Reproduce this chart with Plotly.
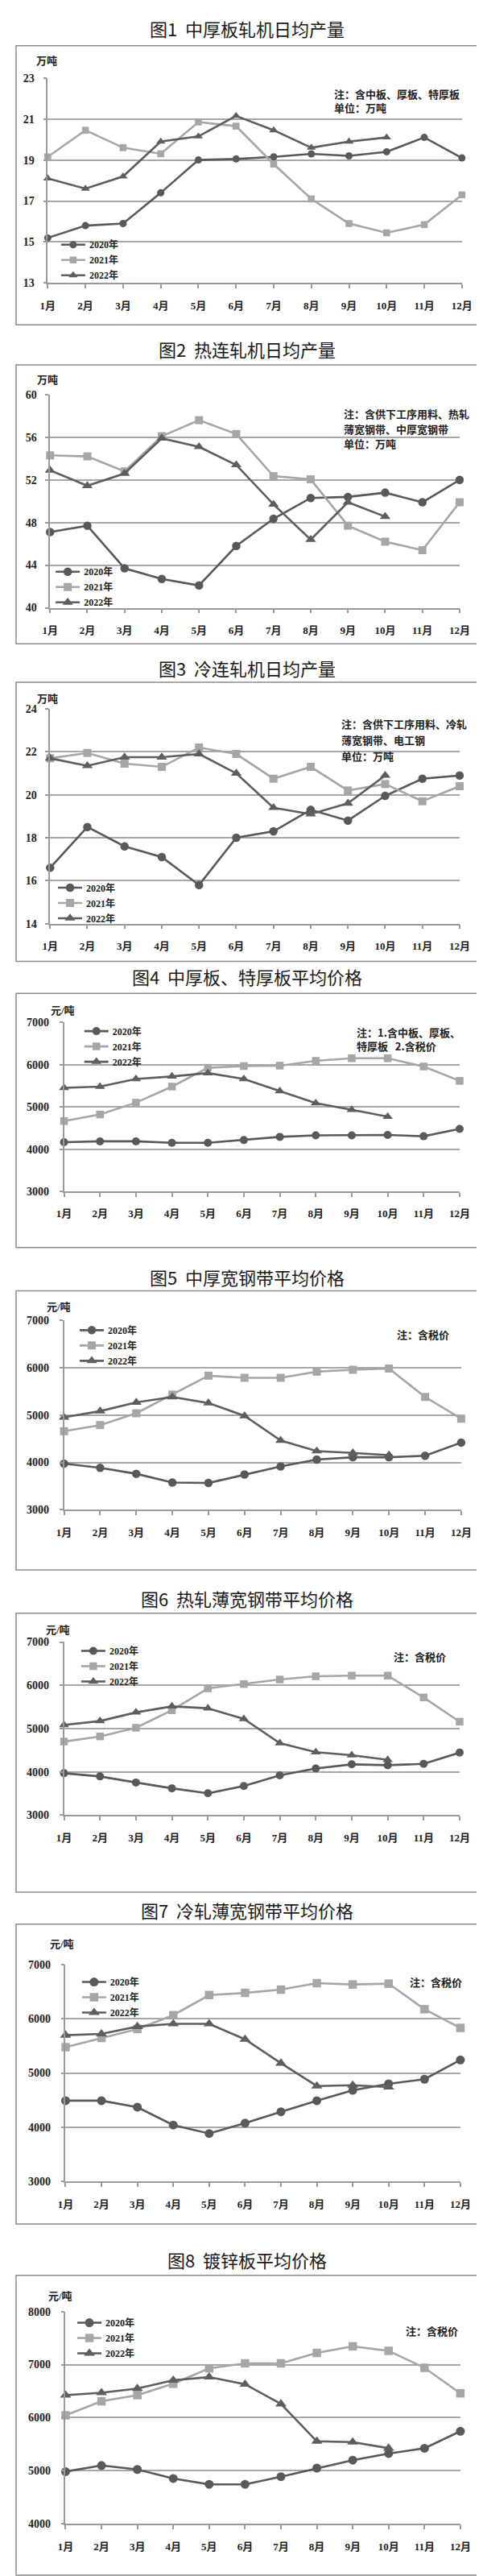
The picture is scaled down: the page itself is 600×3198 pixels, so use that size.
import plotly.graph_objects as go

# ---------------- data ----------------
months = ["1月", "2月", "3月", "4月", "5月", "6月", "7月", "8月", "9月", "10月", "11月", "12月"]
years = ["2020年", "2021年", "2022年"]

# 图1 中厚板轧机日均产量 (万吨)
plate_mill_2020 = [15.2, 15.8, 15.9, 17.4, 19.0, 19.05, 19.15, 19.3, 19.2, 19.4, 20.1, 19.1]
plate_mill_2021 = [19.15, 20.45, 19.6, 19.3, 20.85, 20.65, 18.8, 17.1, 15.9, 15.45, 15.85, 17.3]
plate_mill_2022 = [18.1, 17.6, 18.2, 19.9, 20.15, 21.15, 20.45, 19.6, 19.9, 20.1]

# 图2 热连轧机日均产量 (万吨)
hot_mill_2020 = [47.1, 47.7, 43.7, 42.7, 42.1, 45.8, 48.35, 50.3, 50.4, 50.8, 49.9, 52.0]
hot_mill_2021 = [54.3, 54.2, 52.8, 56.1, 57.6, 56.3, 52.35, 52.05, 47.7, 46.2, 45.4, 49.9]
hot_mill_2022 = [52.9, 51.45, 52.6, 55.9, 55.1, 53.4, 49.7, 46.4, 49.9, 48.55]

# 图3 冷连轧机日均产量 (万吨)
cold_mill_2020 = [16.6, 18.5, 17.6, 17.1, 15.8, 18.0, 18.3, 19.3, 18.8, 19.95, 20.75, 20.9]
cold_mill_2021 = [21.7, 21.95, 21.45, 21.3, 22.2, 21.9, 20.75, 21.3, 20.2, 20.5, 19.7, 20.4]
cold_mill_2022 = [21.7, 21.35, 21.75, 21.75, 21.9, 21.0, 19.4, 19.1, 19.6, 20.9]

# 图4 中厚板、特厚板平均价格 (元/吨)
plate_price_2020 = [4165, 4185, 4185, 4150, 4150, 4215, 4290, 4325, 4325, 4335, 4305, 4480]
plate_price_2021 = [4665, 4820, 5100, 5480, 5925, 5965, 5975, 6090, 6150, 6150, 5955, 5615]
plate_price_2022 = [5450, 5480, 5660, 5720, 5800, 5660, 5375, 5090, 4930, 4770]

# 图5 中厚宽钢带平均价格 (元/吨)
mwstrip_price_2020 = [3975, 3885, 3760, 3575, 3565, 3745, 3915, 4060, 4110, 4110, 4140, 4420]
mwstrip_price_2021 = [4660, 4790, 5040, 5435, 5835, 5790, 5790, 5920, 5960, 5985, 5385, 4925]
mwstrip_price_2022 = [4955, 5085, 5270, 5385, 5255, 4985, 4465, 4240, 4200, 4155]

# 图6 热轧薄宽钢带平均价格 (元/吨)
hot_thin_price_2020 = [3970, 3895, 3755, 3620, 3505, 3675, 3920, 4080, 4175, 4155, 4185, 4445]
hot_thin_price_2021 = [4700, 4820, 5020, 5425, 5930, 6030, 6135, 6210, 6225, 6225, 5720, 5160]
hot_thin_price_2022 = [5085, 5175, 5375, 5515, 5470, 5225, 4665, 4455, 4385, 4280]

# 图7 冷轧薄宽钢带平均价格 (元/吨)
cold_thin_price_2020 = [4490, 4490, 4370, 4040, 3885, 4075, 4285, 4490, 4680, 4800, 4885, 5240]
cold_thin_price_2021 = [5475, 5645, 5810, 6065, 6435, 6475, 6535, 6655, 6630, 6645, 6175, 5830]
cold_thin_price_2022 = [5695, 5720, 5855, 5905, 5905, 5620, 5180, 4760, 4775, 4740]

# 图8 镀锌板平均价格 (元/吨)
galv_price_2020 = [4985, 5100, 5025, 4855, 4745, 4745, 4890, 5050, 5200, 5325, 5425, 5745]
galv_price_2021 = [6045, 6310, 6425, 6640, 6930, 7025, 7025, 7220, 7345, 7260, 6940, 6460]
galv_price_2022 = [6425, 6470, 6550, 6705, 6765, 6630, 6260, 5555, 5540, 5425]

titles = ["图1  中厚板轧机日均产量", "图2  热连轧机日均产量", "图3  冷连轧机日均产量",
          "图4  中厚板、特厚板平均价格", "图5  中厚宽钢带平均价格", "图6  热轧薄宽钢带平均价格",
          "图7  冷轧薄宽钢带平均价格", "图8  镀锌板平均价格"]
units = ["万吨", "万吨", "万吨", "元/吨", "元/吨", "元/吨", "元/吨", "元/吨"]
notes = [["注：含中板、厚板、特厚板", "单位：万吨"],
         ["注：含供下工序用料、热轧", "薄宽钢带、中厚宽钢带", "单位：万吨"],
         ["注：含供下工序用料、冷轧", "薄宽钢带、电工钢", "单位：万吨"],
         ["注：1.含中板、厚板、", "特厚板   2.含税价"],
         ["注：含税价"], ["注：含税价"], ["注：含税价"], ["注：含税价"]]
yranges = [(13, 23), (40, 60), (14, 24), (3000, 7000), (3000, 7000), (3000, 7000), (3000, 7000), (4000, 8000)]
ydticks = [2, 4, 2, 1000, 1000, 1000, 1000, 1000]

series = [
    (plate_mill_2020, plate_mill_2021, plate_mill_2022),
    (hot_mill_2020, hot_mill_2021, hot_mill_2022),
    (cold_mill_2020, cold_mill_2021, cold_mill_2022),
    (plate_price_2020, plate_price_2021, plate_price_2022),
    (mwstrip_price_2020, mwstrip_price_2021, mwstrip_price_2022),
    (hot_thin_price_2020, hot_thin_price_2021, hot_thin_price_2022),
    (cold_thin_price_2020, cold_thin_price_2021, cold_thin_price_2022),
    (galv_price_2020, galv_price_2021, galv_price_2022),
]

# ---------------- layout geometry (pixels) ----------------
W, H = 600, 3198
# leg = (x of legend line start, y of middle legend row)
geo = [
    dict(title=20, box=(42, 390), x0=43, x1=578, ytop=82, ybot=338, unit=(26, 61), note=(411, [102, 119]), leg=(61, 309), ylabstand=8, msc=0.9),
    dict(title=420, box=(440, 788), x0=46, x1=575, ytop=477, ybot=743, unit=(27, 459), note=(423, [501, 520, 538]), leg=(54, 717), ylabstand=8, msc=1.05),
    dict(title=818, box=(836, 1184), x0=46, x1=575, ytop=869, ybot=1137, unit=(27, 857), note=(420, [888, 908, 928]), leg=(57, 1111), ylabstand=8, msc=1.05),
    dict(title=1203, box=(1224, 1541), x0=64, x1=575, ytop=1260, ybot=1471, unit=(45, 1245), note=(440, [1272, 1290]), leg=(91, 1290), ylabstand=10, msc=1.0),
    dict(title=1577, box=(1595, 1943), x0=64, x1=577, ytop=1632, ybot=1868, unit=(40, 1615), note=(492, [1649]), leg=(85, 1663), ylabstand=10, msc=1.05),
    dict(title=1978, box=(1997, 2345), x0=64, x1=575, ytop=2033, ybot=2249, unit=(38, 2018), note=(488, [2051]), leg=(87, 2063), ylabstand=10, msc=1.0),
    dict(title=2367, box=(2385, 2759), x0=66, x1=576, ytop=2435, ybot=2706, unit=(44, 2410), note=(509, [2457]), leg=(88, 2476), ylabstand=10, msc=1.1),
    dict(title=2803, box=(2823, 3197), x0=66, x1=576, ytop=2868, ybot=3133, unit=(42, 2849), note=(503, [2892]), leg=(82, 2901), ylabstand=10, msc=1.1),
]

styles = [
    dict(color="#595959", symbol="circle", size=10),
    dict(color="#a6a6a6", symbol="square", size=9.5),
    dict(color="#5e5e5e", symbol="triangle-up", size=11),
]

AXIS = "#9a9a9a"
GRID = "#a8a8a8"
SERIF = "Liberation Serif, Noto Sans CJK SC, serif"
CJK = "Noto Sans CJK SC, sans-serif"


def px(p):
    return p / W


def py(p):
    return 1 - p / H


fig = go.Figure()
layout = dict(width=W, height=H, margin=dict(l=0, r=0, t=0, b=0),
              paper_bgcolor="white", plot_bgcolor="white", showlegend=True)
shapes, annotations = [], []

for i, g in enumerate(geo):
    n = "" if i == 0 else str(i + 1)
    xa, ya, lg = "x" + n, "y" + n, "legend" + n
    for yr, vals, st in zip(years, series[i], styles):
        fig.add_trace(go.Scatter(
            x=months[:len(vals)], y=vals, name=yr, mode="lines+markers",
            xaxis=xa, yaxis=ya, legend=lg, cliponaxis=False,
            line=dict(color=st["color"], width=2.6),
            marker=dict(symbol=st["symbol"], size=st["size"] * g["msc"], color=st["color"]),
            hoverinfo="skip"))
    lo, hi = yranges[i]
    layout["xaxis" + n] = dict(
        domain=[px(g["x0"]), px(g["x1"])], anchor=ya, type="category",
        categoryorder="array", categoryarray=months, range=[0, 11],
        showgrid=False, showline=True, linecolor=AXIS, linewidth=1.5,
        ticks="outside", ticklen=5, tickwidth=1.5, tickcolor=AXIS,
        tickfont=dict(family=SERIF, size=13, color="#222", weight="bold"),
        ticklabelstandoff=10, fixedrange=True)
    layout["yaxis" + n] = dict(
        domain=[py(g["ybot"]), py(g["ytop"])], anchor=xa,
        range=[lo, hi + (hi - lo) * 0.0005], tick0=lo, dtick=ydticks[i],
        showgrid=True, gridcolor=GRID, gridwidth=1.5, zeroline=False,
        showline=True, linecolor=AXIS, linewidth=1.5,
        ticks="outside", ticklen=4, tickwidth=1.5, tickcolor=AXIS,
        tickfont=dict(family=SERIF, size=14, color="#222", weight="bold"),
        ticklabelstandoff=g["ylabstand"], fixedrange=True)
    # plotly legend rows are 19px apart; first row centre sits 14.5px below legend top
    layout[lg] = dict(x=px(g["leg"][0] - 6), y=py(g["leg"][1] - 33.5),
                      xanchor="left", yanchor="top", bgcolor="rgba(0,0,0,0)",
                      borderwidth=0, tracegroupgap=0, itemwidth=30,
                      font=dict(family=SERIF, size=12, color="#222", weight="bold"))
    # frame
    shapes.append(dict(type="rect", xref="paper", yref="paper",
                       x0=px(2), x1=px(598), y0=py(g["box"][0]), y1=py(g["box"][1]),
                       line=dict(color="#8c8c8c", width=1.5), fillcolor="rgba(0,0,0,0)"))
    # title
    annotations.append(dict(text=titles[i], xref="paper", yref="paper", x=0.5, y=py(g["title"]),
                            xanchor="center", yanchor="middle", showarrow=False,
                            font=dict(family=CJK, size=22, color="#1a1a1a")))
    # unit
    annotations.append(dict(text=units[i], xref="paper", yref="paper", x=px(g["unit"][0]),
                            y=py(g["unit"][1]), xanchor="left", yanchor="middle", showarrow=False,
                            font=dict(family=SERIF, size=13, color="#222", weight="bold")))
    # notes
    for line, ny in zip(notes[i], g["note"][1]):
        annotations.append(dict(text=line, xref="paper", yref="paper", x=px(g["note"][0]),
                                y=py(ny), xanchor="left", yanchor="middle", showarrow=False,
                                font=dict(family=CJK, size=13, color="#222", weight="bold")))

layout["shapes"] = shapes
layout["annotations"] = annotations
fig.update_layout(**layout)
fig.write_html("out.html")
